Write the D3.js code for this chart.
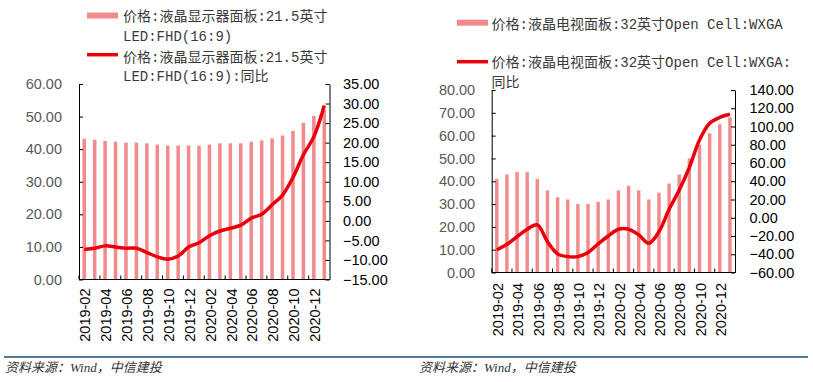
<!DOCTYPE html>
<html>
<head>
<meta charset="utf-8">
<script src="https://cdn.jsdelivr.net/npm/d3@7"></script>
<style>
  body { margin: 0; background: #fff; }
  svg { display: block; }
</style>
</head>
<body>
<script>
// two panel price charts: bars = price (left axis), line = yoy (right axis)

var months = ["2019-02","2019-03","2019-04","2019-05","2019-06","2019-07","2019-08","2019-09",
              "2019-10","2019-11","2019-12","2020-01","2020-02","2020-03","2020-04","2020-05",
              "2020-06","2020-07","2020-08","2020-09","2020-10","2020-11","2020-12","2021-01"];

// left panel: monitor panel 21.5"
var monitorPrice = [43.2, 42.9, 42.5, 42.3, 42.0, 42.0, 41.8, 41.4, 41.1, 41.1, 41.1, 41.1,
                    41.4, 41.8, 41.8, 41.8, 42.3, 42.7, 43.3, 44.2, 45.6, 48.1, 50.2, 52.0];
var monitorYoY = [-7.3, -7.0, -6.4, -6.7, -7.0, -7.0, -8.1, -9.2, -9.8, -9.0, -6.7, -5.6,
                  -3.8, -2.6, -1.9, -1.1, 0.7, 1.7, 4.1, 6.6, 11.1, 16.9, 21.5, 29.5];

// right panel: tv panel 32" open cell
var tvPrice = [41, 43, 44, 44, 41, 36, 33, 32, 30, 30, 31, 32,
               36, 38, 36, 32, 35, 39, 43, 50, 56, 61, 65, 68];
var tvYoY = [-35.3, -29.1, -20.7, -12.6, -7.9, -26.2, -39.6, -42.6, -42.6, -38.2, -28.7, -20.0,
             -12.6, -12.6, -18.8, -27.9, -15.2, 9.3, 30.4, 55.3, 85.2, 103.5, 110.1, 113.4];

// axis ticks
var monitorLeftTicks = [0, 10, 20, 30, 40, 50, 60];
var monitorRightTicks = [-15, -10, -5, 0, 5, 10, 15, 20, 25, 30, 35];
var tvLeftTicks = [0, 10, 20, 30, 40, 50, 60, 70, 80];
var tvRightTicks = [-60, -40, -20, 0, 20, 40, 60, 80, 100, 120, 140];

var barColor = "#f28b8c",
    lineColor = "#e8000b",
    numFont = "'Liberation Sans', Arial, sans-serif",
    legFont = "'Liberation Mono', 'Noto Sans CJK SC', monospace";

var svg = d3.select("body").append("svg")
    .attr("width", 813)
    .attr("height", 382);

function drawPanel(p, bars, line, leftTicks, rightTicks, legend) {
  var xb = d3.scaleBand().domain(months).range([p.x0, p.x1]);
  var bw = xb.bandwidth();
  var yL = d3.scaleLinear().domain([leftTicks[0], leftTicks[leftTicks.length - 1]]).range([p.y0, p.y1]);
  var yR = d3.scaleLinear().domain([rightTicks[0], rightTicks[rightTicks.length - 1]]).range([p.y0, p.y1]);

  var g = svg.append("g");

  // bars
  g.selectAll(".bar")
    .data(bars)
    .enter().append("rect")
      .attr("class", "bar")
      .attr("x", function(d, i) { return xb(months[i]) + bw * 0.33; })
      .attr("width", bw * 0.34)
      .attr("y", function(d) { return yL(d); })
      .attr("height", function(d) { return p.y0 - yL(d); })
      .style("fill", barColor);

  // yoy line
  var lineGen = d3.line()
    .x(function(d, i) { return xb(months[i]) + bw / 2; })
    .y(function(d) { return yR(d); })
    .curve(d3.curveCatmullRom.alpha(0.5));

  g.append("path")
    .datum(line)
    .attr("d", lineGen)
    .style("fill", "none")
    .style("stroke", lineColor)
    .style("stroke-width", 3.5)
    .style("stroke-linejoin", "round");

  // left axis
  var ax = g.append("g")
    .attr("transform", "translate(" + p.x0 + ",0)")
    .call(d3.axisLeft(yL).tickValues(leftTicks).tickFormat(d3.format(".2f"))
      .tickSizeInner(-4).tickSizeOuter(0).tickPadding(p.padL));
  ax.attr("font-family", numFont).attr("font-size", "14.5px");
  ax.selectAll("text").style("fill", "#595959");

  // right axis
  var ar = g.append("g")
    .attr("transform", "translate(" + p.x1 + ",0)")
    .call(d3.axisRight(yR).tickValues(rightTicks).tickFormat(d3.format(".2f"))
      .tickSizeInner(-4).tickSizeOuter(0).tickPadding(p.padR));
  ar.attr("font-family", numFont).attr("font-size", "14.5px");
  ar.selectAll("text").style("fill", "#000");

  // bottom axis, ticks every 2 months pointing up
  g.append("line")
    .attr("x1", p.x0).attr("x2", p.x1)
    .attr("y1", p.y0).attr("y2", p.y0)
    .style("stroke", "#000");

  var every2 = months.filter(function(d, i) { return i % 2 == 0; });
  g.selectAll(".xtick")
    .data(every2)
    .enter().append("line")
      .attr("class", "xtick")
      .attr("x1", function(d) { return xb(d); })
      .attr("x2", function(d) { return xb(d); })
      .attr("y1", p.y0).attr("y2", p.y0 - 4)
      .style("stroke", "#000");

  g.selectAll(".xlab")
    .data(every2)
    .enter().append("text")
      .attr("class", "xlab")
      .attr("transform", function(d) {
        return "translate(" + (xb(d) + bw / 2 + 1) + "," + (p.y0 + p.labGap) + ") rotate(-90)";
      })
      .attr("dy", "0.36em")
      .style("text-anchor", "end")
      .style("font-family", numFont)
      .style("font-size", "14.5px")
      .style("fill", "#000")
      .text(function(d) { return d; });

  // legend
  var lg = g.append("g");
  lg.append("rect")
    .attr("x", legend.sx).attr("y", legend.barY - 3)
    .attr("width", 31).attr("height", 6)
    .style("fill", barColor);
  lg.append("line")
    .attr("x1", legend.sx).attr("x2", legend.sx + 31)
    .attr("y1", legend.lineY).attr("y2", legend.lineY)
    .style("stroke", lineColor)
    .style("stroke-width", 3.5);

  lg.selectAll("text")
    .data(legend.rows)
    .enter().append("text")
      .attr("x", function(d) { return d.x; })
      .attr("y", function(d) { return d.y; })
      .style("font-family", legFont)
      .style("font-size", "14px")
      .style("fill", "#3a3a3a")
      .text(function(d) { return d.t; });
}

drawPanel({x0: 79, x1: 329.5, y0: 279.5, y1: 84, padL: 17, padR: 13.5, labGap: 9},
  monitorPrice, monitorYoY, monitorLeftTicks, monitorRightTicks,
  {sx: 87, barY: 15.5, lineY: 54.7, rows: [
    {x: 123, y: 21, t: "价格:液晶显示器面板:21.5英寸"},
    {x: 123, y: 41, t: "LED:FHD(16:9)"},
    {x: 123, y: 61.5, t: "价格:液晶显示器面板:21.5英寸"},
    {x: 123, y: 81, t: "LED:FHD(16:9):同比"}
  ]});

drawPanel({x0: 491.7, x1: 735, y0: 272.5, y1: 90, padL: 16.5, padR: 14.5, labGap: 10.5},
  tvPrice, tvYoY, tvLeftTicks, tvRightTicks,
  {sx: 457, barY: 22.7, lineY: 61.7, rows: [
    {x: 491.5, y: 28.5, t: "价格:液晶电视面板:32英寸Open Cell:WXGA"},
    {x: 491.5, y: 67, t: "价格:液晶电视面板:32英寸Open Cell:WXGA:"},
    {x: 491.5, y: 87, t: "同比"}
  ]});

// footer rule and source notes
svg.append("line")
  .attr("x1", 4).attr("x2", 808)
  .attr("y1", 357).attr("y2", 357)
  .style("stroke", "#1f4e79")
  .style("stroke-width", 1.5);

svg.selectAll(".src")
  .data([5, 419])
  .enter().append("text")
    .attr("class", "src")
    .attr("x", function(d) { return d; })
    .attr("y", 372)
    .style("font-family", "'Liberation Serif', 'Noto Sans CJK SC', serif")
    .style("font-style", "italic")
    .style("font-size", "13px")
    .style("fill", "#333")
    .text("资料来源：Wind，中信建投");
</script>
</body>
</html>
